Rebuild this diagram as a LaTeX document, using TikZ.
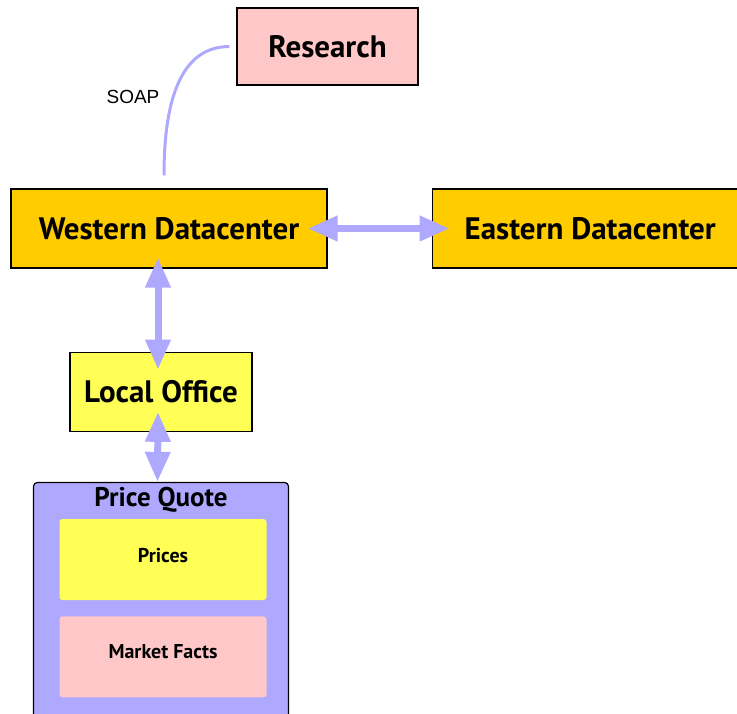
\documentclass[tikz,border=0pt]{standalone}
\usepackage{fontspec}
\setmainfont{PT Sans}
\setsansfont{Liberation Sans}
\usetikzlibrary{positioning,calc,arrows.meta}
\definecolor{gold}{HTML}{FFCC00}
\definecolor{lemon}{HTML}{FFFF55}
\definecolor{rose}{HTML}{FFC8C8}
\definecolor{lilac}{HTML}{AFA8FF}
\newcommand{\bigtxt}{\fontsize{31}{34}\selectfont\bfseries}

\begin{document}
\begin{tikzpicture}[x=1pt,y=-1pt,
		box/.style={draw=black,line width=1.2pt,inner sep=0pt,minimum height=79pt,font=\bigtxt},
		inbox/.style={rounded corners=3pt,inner sep=0pt,minimum width=207pt,minimum height=81pt},
		intxt/.style={font=\fontsize{20}{22}\selectfont\bfseries},
		link/.style={lilac,line width=7pt,{Triangle[length=30pt,width=24pt]}-{Triangle[length=30pt,width=24pt]}},
	]
		\useasboundingbox (0,0) rectangle (737,713);

		\node[box,fill=rose,minimum width=181pt,minimum height=77pt] (rs) at (327.5,46.5) {Research};
		\node[box,fill=gold,minimum width=316pt] (wdc) at (169,228.5) {Western Datacenter};
		\node[box,fill=gold,minimum width=316pt,right=104pt of wdc] (edc) {Eastern Datacenter};
		\node[box,fill=lemon,minimum width=182pt,below=83pt of wdc,xshift=-8pt] (lo) {Local Office};

		% price quote group
		\node[draw=black,line width=1.2pt,rounded corners=4pt,fill=lilac,minimum width=255pt,minimum height=236pt,
			below=50pt of lo,inner sep=0pt] (pq) {};
		\node[font=\fontsize{27}{30}\selectfont\bfseries] (pqt) at ([yshift=-18pt]pq.north) {Price Quote};
		\node[inbox,fill=lemon,below=37pt of pq.north,anchor=north,xshift=2pt] (pr) {};
		\node[inbox,fill=rose,below=16pt of pr] (mf) {};
		\node[intxt] at ([yshift=4pt]pr.center) {Prices};
		\node[intxt] at ([yshift=5pt]mf.center) {Market Facts};

		\draw[link] ([xshift=-20pt]wdc.east) -- ([xshift=18pt]edc.west);
		\draw[link] ([xshift=-11pt,yshift=11pt]wdc.south) -- ([xshift=-3pt,yshift=-18pt]lo.north);
		\draw[link] ([xshift=-3pt,yshift=20pt]lo.south) -- ([xshift=-3.5pt]pq.north);
		\draw[lilac,line width=3pt]
			([xshift=-5pt,yshift=13pt]wdc.north) to[out=90,in=180] ([xshift=-7pt]rs.west);
		\node[font=\sffamily\fontsize{19}{21}\selectfont] (soap) at (133,97) {SOAP};
	\end{tikzpicture}
\end{document}
